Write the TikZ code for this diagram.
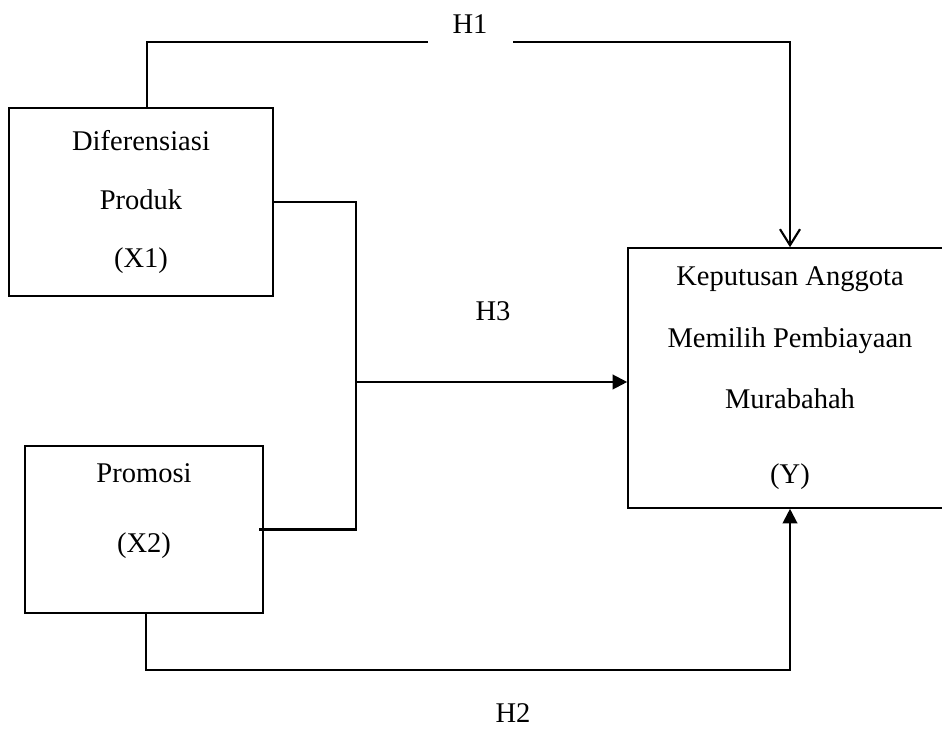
\documentclass[tikz,border=0pt]{standalone}
\usepackage{fontspec}
\setmainfont{Liberation Serif}
\usetikzlibrary{arrows.meta}
\tikzset{
  varbox/.style={draw, line width=0.6pt, align=center, inner sep=0pt},
  hyp/.style={inner sep=1pt},
  link/.style={line width=0.8pt},
  opentip/.style={-{Straight Barb[length=6pt,width=7.5pt]}},
  solidtip/.style={-{Triangle[length=5.5pt,width=5.5pt]}}
}
\begin{document}
\begin{tikzpicture}[x=0.375pt,y=-0.375pt,font=\fontsize{10.7}{13}\selectfont]
  \useasboundingbox (0,0) rectangle (942,729);
  % variables
  \node [varbox, minimum width=99pt, minimum height=70.5pt] (x1) at (141,202)
    {Diferensiasi\\[9.1pt] Produk\\[8.75pt] (X1)};
  \node [varbox, minimum width=89.25pt, minimum height=62.6pt] (x2) at (144,529.5)
    {Promosi\\[13.25pt] (X2)\\[-0.8pt] \strut};
  \node [varbox, minimum width=121.5pt, minimum height=97.5pt] (y) at (790,378)
    {Keputusan Anggota\\[10.25pt] Memilih Pembiayaan\\[9.9pt] Murabahah\\[15.1pt] (Y)};
  % hypotheses
  \node [hyp] (h1) at (470,24) {H1};
  \node [hyp] (h2) at (513,713) {H2};
  \node [hyp] (h3) at (493,311) {H3};
  \coordinate (h1l) at (428,42);
  \coordinate (h1r) at (513,42);
  \coordinate (jn) at (356,382);
  \draw [link, opentip] ([xshift=2.25pt]x1.north) |- (h1l) (h1r) -| (y.north);
  \draw [link] (x1.east) -| (jn) |- ([xshift=-1.9pt]x2.east);
  \draw [link, solidtip] (jn) -- (jn -| y.west);
  \draw [link, solidtip] ([xshift=0.75pt]x2.south) -- ++(0,56) -| (y.south);
\end{tikzpicture}
\end{document}
